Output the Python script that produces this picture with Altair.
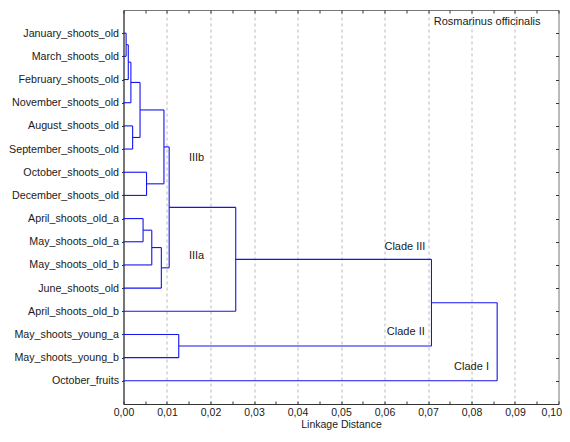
import altair as alt
import pandas as pd

# ---- data ----
leaves = ["January_shoots_old", "March_shoots_old", "February_shoots_old",
          "November_shoots_old", "August_shoots_old", "September_shoots_old",
          "October_shoots_old", "December_shoots_old", "April_shoots_old_a",
          "May_shoots_old_a", "May_shoots_old_b", "June_shoots_old",
          "April_shoots_old_b", "May_shoots_young_a", "May_shoots_young_b",
          "October_fruits"]

# linkage: leaves are 0..15, each merge creates cluster 16, 17, ...
merge_left = [0, 16, 17, 4, 18, 6, 20, 8, 23, 24, 22, 26, 13, 27, 29]
merge_right = [1, 2, 3, 5, 19, 7, 21, 9, 10, 11, 25, 12, 14, 28, 15]
merge_height = [0.0006, 0.0011, 0.0017, 0.0021, 0.0038, 0.0053, 0.0093,
                 0.0045, 0.0065, 0.0087, 0.0105, 0.0258, 0.0127, 0.0708, 0.0859]

x_ticks = [0.00, 0.01, 0.02, 0.03, 0.04, 0.05, 0.06, 0.07, 0.08, 0.09, 0.10]
x_minor = [i * 0.005 for i in range(21)]

ann_text = ["IIIb", "IIIa", "Clade III", "Clade II", "Clade I", "Rosmarinus officinalis"]
ann_x = [0.0168, 0.0168, 0.0647, 0.0649, 0.0800, 0.0836]
ann_y = [6.38, 10.62, 10.23, 13.9, 15.4, 0.5]

# ---- build dendrogram segments from the linkage ----
n = len(leaves)
ypos = {i: i + 1 for i in range(n)}
hgt = {i: 0.0 for i in range(n)}
segs = []
for k, (l, r, h) in enumerate(zip(merge_left, merge_right, merge_height)):
    node = n + k
    segs.append({"x1": hgt[l], "x2": h, "y1": ypos[l], "y2": ypos[l]})
    segs.append({"x1": hgt[r], "x2": h, "y1": ypos[r], "y2": ypos[r]})
    segs.append({"x1": h, "x2": h, "y1": ypos[l], "y2": ypos[r]})
    ypos[node] = (ypos[l] + ypos[r]) / 2
    hgt[node] = h
seg_df = pd.DataFrame(segs)
ann_df = pd.DataFrame({"text": ann_text, "x": ann_x, "y": ann_y})

W, H = 435, 394
FONT = "Liberation Sans"
TXT = "#1a1a1a"
AX = "#333333"

xscale = alt.Scale(domain=[0, 0.1], nice=False, zero=True)
yscale = alt.Scale(domain=[0, n + 1], nice=False, reverse=True)

name_expr = "[" + ",".join("'" + s + "'" for s in leaves) + "][datum.value - 1]"

lines = alt.Chart(seg_df).mark_rule(color="#1414ee", strokeWidth=1.1).encode(
    x=alt.X("x1:Q", scale=xscale, axis=alt.Axis(
        orient="bottom", values=x_ticks,
        labelExpr="replace(format(datum.value, '.2f'), '.', ',')",
        labelFlush=False, labelOverlap=False,
        labelAlign={"condition": {"test": "datum.value > 0.099", "value": "right"},
                    "value": "center"},
        labelOffset={"condition": {"test": "datum.value > 0.099", "value": 3},
                     "value": 0},
        ticks=False, grid=True, gridDash=[3, 3], gridColor="#b8b8b8",
        gridOpacity={"condition": {"test": "datum.value < 0.001 || datum.value > 0.099",
                                   "value": 0}, "value": 1},
        domainColor=AX, labelFontSize=10.5, labelPadding=3.5,
        labelColor=TXT, labelFont=FONT,
        title="Linkage Distance", titleFontSize=10.5, titleFontWeight="normal",
        titleFont=FONT, titleColor=TXT, titleY=23, titleBaseline="alphabetic")),
    x2="x2:Q",
    y=alt.Y("y1:Q", scale=yscale, axis=alt.Axis(
        orient="left", values=list(range(1, n + 1)), labelExpr=name_expr,
        labelOverlap=False, labelFlush=False,
        tickSize=2, tickColor=AX, labelPadding=3, grid=False, title=None,
        domainColor=AX, labelFontSize=10.7, labelColor=TXT, labelFont=FONT)),
    y2="y2:Q",
)

ticks_a = alt.Chart(seg_df).mark_point(opacity=0).encode(
    x=alt.X("x1:Q", scale=xscale, axis=alt.Axis(
        orient="top", offset=-H, values=x_minor, labels=False, domain=False,
        grid=False, tickSize=3, tickColor=AX, title=None)),
    y=alt.Y("y1:Q", scale=yscale, axis=alt.Axis(
        orient="left", offset=-W, values=list(range(1, n + 1)), labels=False,
        domain=False, grid=False, tickSize=3, tickColor=AX, title=None)),
)

ticks_b = alt.Chart(seg_df).mark_point(opacity=0).encode(
    x=alt.X("x1:Q", scale=xscale, axis=alt.Axis(
        orient="bottom", offset=-H, values=x_minor, labels=False, domain=False,
        grid=False, tickSize=3, tickColor=AX, title=None)),
    y=alt.Y("y1:Q", scale=yscale, axis=None),
)

labels = alt.Chart(ann_df).mark_text(fontSize=11, font=FONT, color=TXT,
                                     align="center", baseline="middle").encode(
    x=alt.X("x:Q", scale=xscale, axis=None),
    y=alt.Y("y:Q", scale=yscale, axis=None),
    text="text:N",
)

chart = alt.layer(lines, ticks_a, ticks_b, labels).resolve_axis(
    x="independent", y="independent"
).properties(
    width=W, height=H,
    autosize=alt.AutoSizeParams(type="none"),
    padding={"top": 2, "left": 115.5, "right": 3.5, "bottom": 26},
    background="white",
).configure_view(stroke="#777777", strokeWidth=1)

chart.save("out.html", embed_options={"renderer": "svg", "actions": False})
